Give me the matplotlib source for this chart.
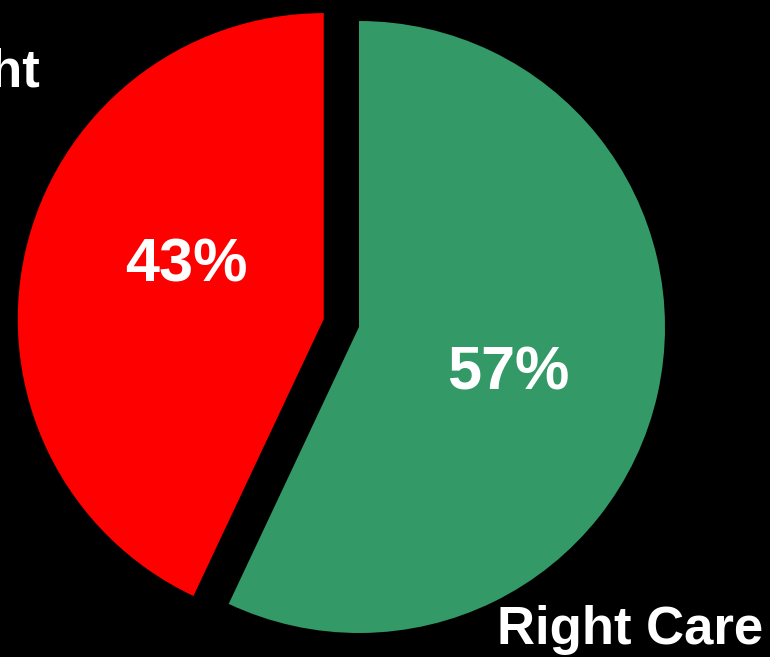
import matplotlib
matplotlib.use("Agg")
import matplotlib.pyplot as plt

categories = ["Right Care", "Not Right Care"]
values = [57, 43]
colors = ["#339966", "#FF0000"]
explode = [0.0, 0.118]

plt.rcParams['font.family'] = ['Liberation Sans', 'DejaVu Sans']

fig = plt.figure(figsize=(7.7, 6.57), dpi=100, facecolor="black")
ax = fig.add_axes([0, 0, 1, 1])
ax.set_facecolor("black")

wedges, texts, autotexts = ax.pie(
    values, colors=colors, explode=explode, startangle=90, counterclock=False,
    radius=1.0, autopct=lambda p: f"{p:.0f}%", pctdistance=0.55,
    textprops=dict(color="white", fontsize=44, fontweight="bold"),
    wedgeprops=dict(linewidth=0),
)
# label positions (baseline anchored)
autotexts[0].set_position((0.487, -0.203))
autotexts[1].set_position((-0.565, 0.150))
for t in autotexts:
    t.set_ha("center"); t.set_va("baseline")

ax.text(1.320, -1.036, categories[0], color="white", fontsize=38, fontweight="bold",
        ha="right", va="baseline")
ax.text(-1.042, 0.784, "Not Right", color="white", fontsize=38, fontweight="bold",
        ha="right", va="baseline")

ax.set_xlim(-359/306, (770-359)/306)
ax.set_ylim(-(657-327)/306, 327/306)
ax.set_aspect("auto")
ax.axis("off")

fig.savefig("out.png", dpi=100, facecolor="black")
